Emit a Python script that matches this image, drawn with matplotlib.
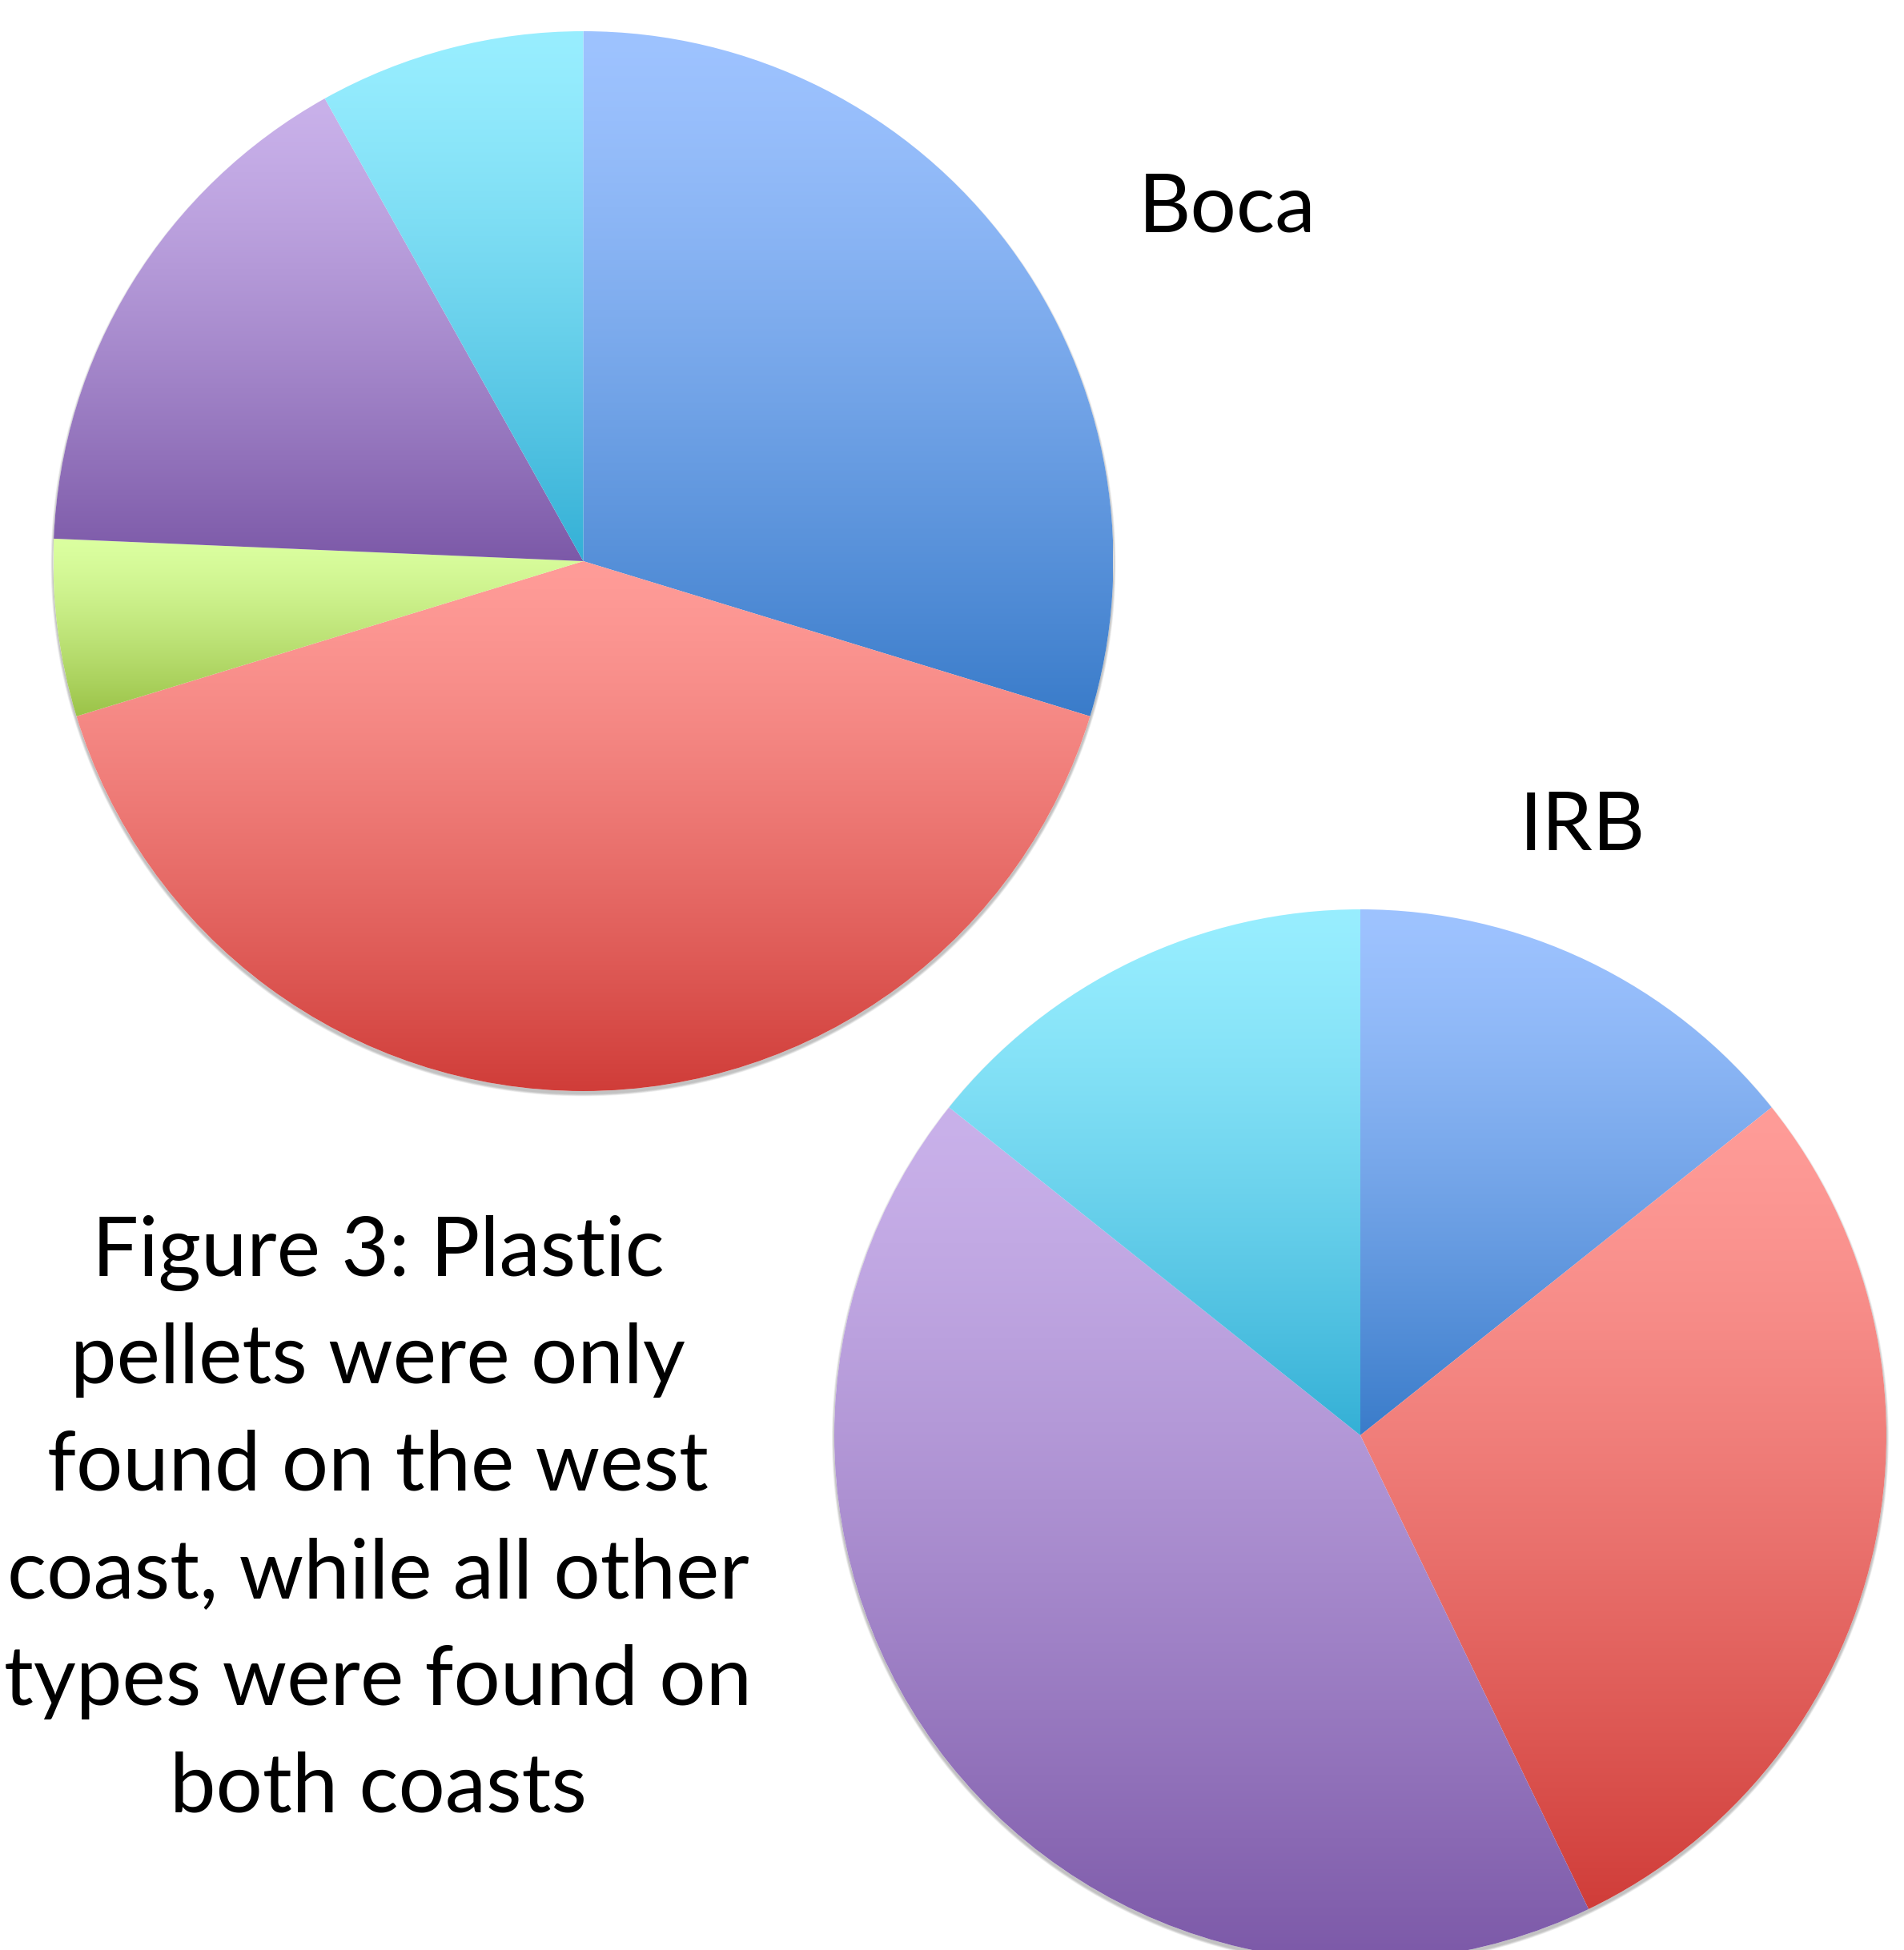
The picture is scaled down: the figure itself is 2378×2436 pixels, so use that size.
import numpy as np
import matplotlib
matplotlib.use('Agg')
import matplotlib.pyplot as plt
from matplotlib.colors import to_rgb
from matplotlib.patches import Circle

# debris types, same order / colours in both pies
categories = ['Type A', 'Type B', 'Pellets', 'Type D', 'Type E']
boca_counts = [11, 15, 2, 6, 3]
irb_counts = [1, 2, 0, 3, 1]

# light (top) -> dark (bottom) gradient for each slice
grad_top = ['#9ec3ff', '#ff9c98', '#dbffa0', '#c9b1ea', '#98eeff']
grad_bot = ['#3a7cca', '#d03d39', '#9bc348', '#7c59a8', '#34b0d6']

pie_titles = ['Boca', 'IRB']
caption_lines = ['Figure 3: Plastic', 'pellets were only', 'found on the west',
                 'coast, while all other', 'types were found on', 'both coasts']

W, H = 2378, 2436
FONT = ['Lato', 'DejaVu Sans']


def gradient_img(c0, c1, n=256):
    t = np.linspace(0, 1, n)[:, None] ** 1.3
    a = np.array(to_rgb(c0))[None, :]
    b = np.array(to_rgb(c1))[None, :]
    return (a + (b - a) * t)[:, None, :]


def draw_pie(ax, counts, center, r):
    # soft shadow, mostly below the disc
    for k in range(1, 6):
        ax.add_patch(Circle((center[0], center[1] - 3.5), r + k * 0.6,
                            color='#000000', alpha=0.05, lw=0, zorder=0))
    ax.add_patch(Circle(center, r, color='white', lw=0, zorder=0.5))
    wedges, _ = ax.pie(counts, startangle=90, counterclock=False, center=center,
                       radius=r, frame=True,
                       wedgeprops=dict(linewidth=0, edgecolor='none'))
    for w, c0, c1 in zip(wedges, grad_top, grad_bot):
        w.set_facecolor('none')
        if w.theta2 - w.theta1 <= 0:
            continue
        ext = w.get_path().get_extents()
        im = ax.imshow(gradient_img(c0, c1), extent=(ext.x0, ext.x1, ext.y0, ext.y1),
                       origin='upper', aspect='auto', interpolation='bilinear', zorder=1)
        im.set_clip_path(w)


fig = plt.figure(figsize=(W / 100, H / 100), dpi=100)
ax = fig.add_axes([0, 0, 1, 1])

draw_pie(ax, boca_counts, (728.5, H - 701), 662)
draw_pie(ax, irb_counts, (1699, H - 1793), 657)

ax.text(1422, H - 290, pie_titles[0], fontsize=73, family=FONT, ha='left', va='baseline')
ax.text(1898, H - 1062, pie_titles[1], fontsize=73, family=FONT, ha='left', va='baseline')

for i, line in enumerate(caption_lines):
    ax.text(472, H - (1594 + 134 * i), line, fontsize=74, family=FONT,
            ha='center', va='baseline')

ax.set_xlim(0, W)
ax.set_ylim(0, H)
ax.set_aspect('equal')
ax.axis('off')

fig.savefig('out.png', dpi=100, facecolor='white')
